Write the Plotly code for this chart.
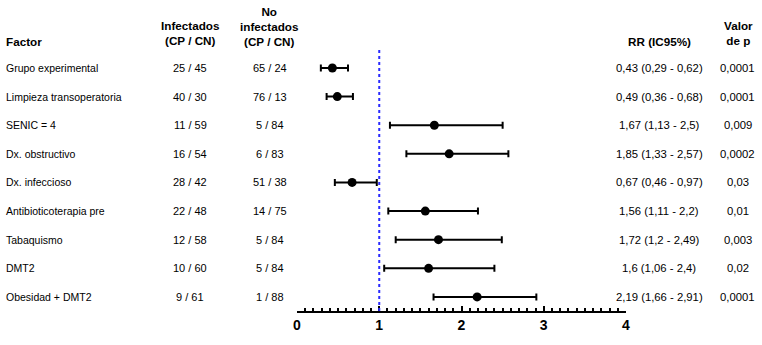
import plotly.graph_objects as go

factors = ["Grupo experimental", "Limpieza transoperatoria", "SENIC = 4", "Dx. obstructivo",
           "Dx. infeccioso", "Antibioticoterapia pre", "Tabaquismo", "DMT2", "Obesidad + DMT2"]
infectados = ["25 / 45", "40 / 30", "11 / 59", "16 / 54", "28 / 42", "22 / 48", "12 / 58", "10 / 60", "9 / 61"]
no_infectados = ["65 / 24", "76 / 13", "5 / 84", "6 / 83", "51 / 38", "14 / 75", "5 / 84", "5 / 84", "1 / 88"]
rr = [0.43, 0.49, 1.67, 1.85, 0.67, 1.56, 1.72, 1.60, 2.19]
ci_low = [0.29, 0.36, 1.13, 1.33, 0.46, 1.11, 1.20, 1.06, 1.66]
ci_high = [0.62, 0.68, 2.50, 2.57, 0.97, 2.20, 2.49, 2.40, 2.91]
rr_text = ["0,43 (0,29 - 0,62)", "0,49 (0,36 - 0,68)", "1,67 (1,13 - 2,5)", "1,85 (1,33 - 2,57)",
           "0,67 (0,46 - 0,97)", "1,56 (1,11 - 2,2)", "1,72 (1,2 - 2,49)", "1,6 (1,06 - 2,4)",
           "2,19 (1,66 - 2,91)"]
p_values = ["0,0001", "0,0001", "0,009", "0,0002", "0,03", "0,01", "0,003", "0,02", "0,0001"]
x_ticks = [0, 1, 2, 3, 4]

W, H = 762, 345
PL, PR, PT, PB = 297, 626, 50, 316   # plot area in page pixels
L, T, R, B = PL, PT, W - PR, H - PB
PW, PH = PR - PL, PB - PT

def pxx(x):
    return (x - PL) / PW

def pxy(y):
    return (PB - y) / PH

rows = list(range(len(factors)))
row0, step = 68.3, 29.17
ymin = (PT - row0) / step
ymax = (PB - row0) / step

FONT = "Liberation Sans, Arial, sans-serif"

fig = go.Figure()
fig.add_trace(go.Scatter(
    x=rr, y=rows, mode="markers",
    marker=dict(color="black", size=9),
    error_x=dict(type="data", symmetric=False,
                 array=[h - v for h, v in zip(ci_high, rr)],
                 arrayminus=[v - l for l, v in zip(ci_low, rr)],
                 color="black", thickness=2, width=3.5),
    cliponaxis=False, showlegend=False, hoverinfo="skip"))

fig.add_shape(type="line", xref="x", yref="paper", x0=1, x1=1, y0=0, y1=1,
              line=dict(color="#2a2aff", width=2, dash="3px,3px"))

ann = []
def add(text, x, y, xanchor="center", bold=False, yref="y", size=11):
    ann.append(dict(text=("<b>%s</b>" % text) if bold else text, x=x, y=y,
                    xref="paper", yref=yref, xanchor=xanchor, yanchor="middle",
                    showarrow=False, font=dict(family=FONT, size=size, color="black")))

for i in rows:
    add(factors[i], pxx(4), i, xanchor="left", size=10.5)
    add(infectados[i], pxx(190), i)
    add(no_infectados[i], pxx(270), i)
    add(rr_text[i], pxx(659), i, size=11.3)
    add(p_values[i], pxx(737.5), i, size=11.3)

HS = 11.7
add("Factor", pxx(4), pxy(41), xanchor="left", bold=True, yref="paper", size=HS)
add("Infectados<br>(CP / CN)", pxx(190), pxy(32.9), bold=True, yref="paper", size=HS)
add("No<br>infectados<br>(CP / CN)", pxx(269.5), pxy(26.2), bold=True, yref="paper", size=HS)
add("RR (IC95%)", pxx(659), pxy(41), bold=True, yref="paper", size=HS)
add("Valor<br>de p", pxx(738), pxy(32.9), bold=True, yref="paper", size=HS)

fig.update_layout(
    width=W, height=H, margin=dict(l=L, r=R, t=T, b=B, pad=0),
    paper_bgcolor="white", plot_bgcolor="white",
    annotations=ann,
    xaxis=dict(range=[0, 4], tickvals=x_ticks, ticktext=[str(v) for v in x_ticks],
               showgrid=False, zeroline=False, showline=True, linecolor="black", linewidth=2,
               ticks="inside", ticklen=5, tickwidth=2, tickcolor="black",
               minor=dict(dtick=0.1, ticks="inside", ticklen=3, tickwidth=1.5, tickcolor="black"),
               tickfont=dict(family=FONT, size=14, color="black", weight="bold")),
    yaxis=dict(range=[ymax, ymin], visible=False, showgrid=False, zeroline=False),
)

fig.write_html("out.html", config={"displayModeBar": False},
               post_script="document.body.style.margin='0px';document.body.style.overflow='hidden';")
